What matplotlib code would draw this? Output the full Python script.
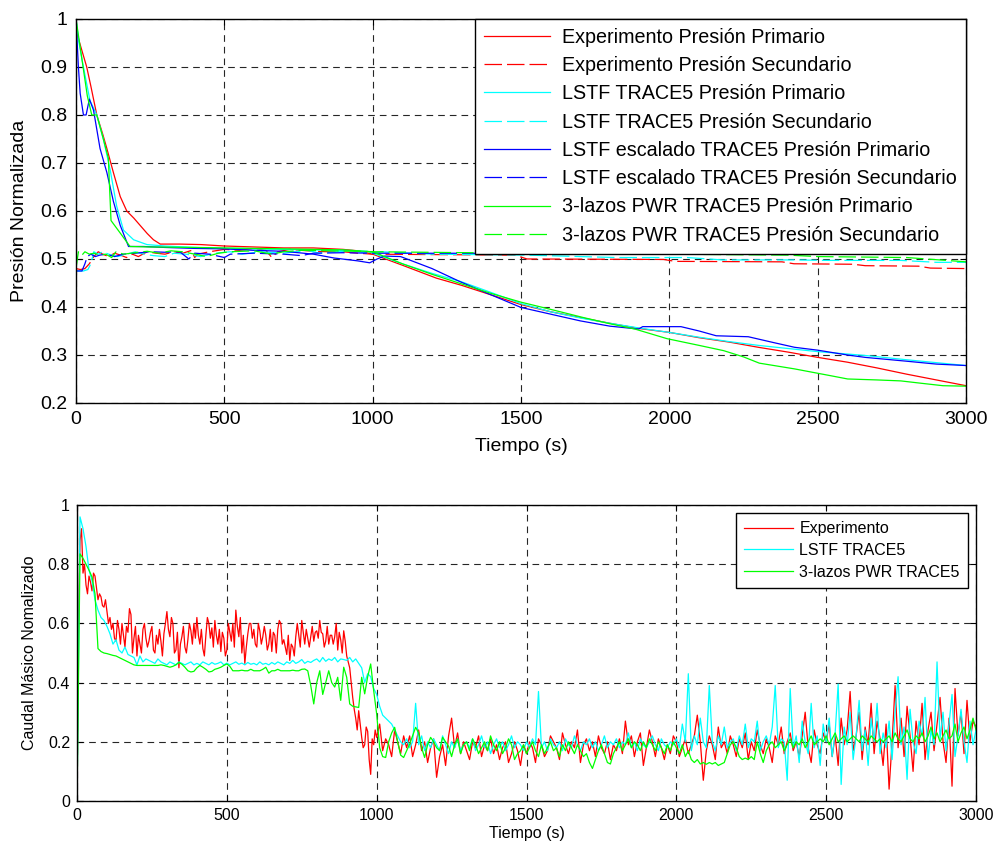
import numpy as np
import matplotlib
matplotlib.use("Agg")
import matplotlib.pyplot as plt

plt.rcParams['font.family'] = ['Liberation Sans', 'DejaVu Sans']

# ---- Presion normalizada (arriba) ----
t_exp_p = [0, 10, 36, 50, 70, 90, 104, 126, 149, 171, 195, 216, 240, 261, 284, 350, 420, 500, 600, 700,
           800, 900, 950, 1000, 1100, 1215, 1300, 1400, 1500, 1600, 1700, 1800, 1900, 2000, 2100, 2200,
           2300, 2400, 2500, 2600, 2700, 2800, 2900, 3000]
p_exp_p = [0.98, 0.955, 0.90, 0.86, 0.80, 0.76, 0.73, 0.68, 0.63, 0.60, 0.585, 0.57, 0.553, 0.54, 0.531,
           0.531, 0.53, 0.527, 0.525, 0.523, 0.523, 0.52, 0.517, 0.51, 0.487, 0.46, 0.445, 0.425, 0.405,
           0.39, 0.378, 0.366, 0.355, 0.347, 0.336, 0.327, 0.316, 0.306, 0.295, 0.285, 0.273, 0.26, 0.248, 0.236]

t_exp_s = [0, 15, 30, 45, 60, 75, 90, 110, 130, 150, 170, 190, 210, 240, 270, 300, 330, 360, 390, 400,
           410, 450, 500, 550, 600, 640, 660, 680, 720, 760, 800, 850, 900, 950, 1000, 1480, 1520, 1980,
           2020, 2380, 2420, 2620, 2660, 2840, 2880, 3000]
p_exp_s = [0.48, 0.478, 0.48, 0.49, 0.505, 0.515, 0.51, 0.505, 0.512, 0.508, 0.503, 0.51, 0.505, 0.515,
           0.512, 0.51, 0.515, 0.512, 0.518, 0.503, 0.51, 0.515, 0.52, 0.518, 0.522, 0.518, 0.503, 0.515,
           0.52, 0.518, 0.516, 0.515, 0.515, 0.512, 0.51, 0.508, 0.5, 0.499, 0.495, 0.494, 0.49, 0.489,
           0.486, 0.485, 0.481, 0.48]

t_lstf_p = [0, 10, 25, 47, 70, 92, 115, 137, 160, 194, 239, 300, 400, 500, 600, 700, 800, 900, 982,
            1100, 1200, 1297, 1400, 1500, 1600, 1700, 1800, 1900, 2000, 2100, 2200, 2300, 2422, 2500,
            2660, 2800, 2900, 3000]
p_lstf_p = [1.0, 0.95, 0.90, 0.83, 0.80, 0.75, 0.686, 0.61, 0.56, 0.54, 0.53, 0.527, 0.524, 0.522,
            0.521, 0.52, 0.519, 0.518, 0.516, 0.49, 0.47, 0.453, 0.43, 0.407, 0.39, 0.377, 0.366, 0.356,
            0.347, 0.337, 0.328, 0.32, 0.312, 0.307, 0.299, 0.29, 0.284, 0.278]

t_lstf_s = [0, 25, 40, 50, 60, 75, 90, 110, 140, 170, 200, 230, 260, 300, 330, 370, 420, 470, 520, 560,
            620, 700, 780, 820, 880, 930, 980, 1030, 1200, 1520, 1820, 2060, 2180, 2420, 2540, 2780,
            2900, 3000]
p_lstf_s = [0.475, 0.475, 0.478, 0.49, 0.515, 0.51, 0.515, 0.51, 0.505, 0.51, 0.515, 0.51, 0.507,
            0.505, 0.512, 0.51, 0.505, 0.512, 0.515, 0.51, 0.515, 0.512, 0.518, 0.512, 0.515, 0.518,
            0.512, 0.515, 0.51, 0.508, 0.503, 0.503, 0.498, 0.498, 0.497, 0.497, 0.493, 0.493]

t_esc_p = [0, 8, 14, 25, 34, 45, 59, 70, 81, 104, 126, 149, 177, 227, 300, 400, 500, 600, 700, 800,
           870, 950, 990, 1015, 1040, 1094, 1200, 1297, 1400, 1500, 1600, 1700, 1800, 1896, 1910, 2039,
           2100, 2158, 2266, 2350, 2422, 2500, 2600, 2660, 2800, 2900, 3000]
p_esc_p = [1.0, 0.90, 0.845, 0.80, 0.80, 0.833, 0.81, 0.77, 0.73, 0.68, 0.62, 0.57, 0.526, 0.526,
           0.524, 0.522, 0.521, 0.518, 0.516, 0.51, 0.502, 0.496, 0.492, 0.50, 0.506, 0.505, 0.48, 0.452,
           0.425, 0.399, 0.385, 0.371, 0.36, 0.354, 0.359, 0.359, 0.35, 0.34, 0.338, 0.326, 0.316, 0.31,
           0.30, 0.295, 0.287, 0.281, 0.278]

t_esc_s = [0, 20, 30, 38, 50, 65, 80, 100, 130, 160, 200, 250, 300, 350, 380, 400, 450, 500, 520, 600,
           700, 760, 800, 900, 1000, 3000]
p_esc_s = [0.475, 0.475, 0.49, 0.505, 0.51, 0.505, 0.508, 0.51, 0.505, 0.51, 0.512, 0.515, 0.514,
           0.515, 0.50, 0.512, 0.51, 0.503, 0.51, 0.512, 0.51, 0.507, 0.512, 0.513, 0.512, 0.511]

t_pwr_p = [0, 19, 38, 53, 70, 92, 109, 113, 118, 149, 182, 250, 400, 500, 600, 700, 800, 900, 1000,
           1100, 1200, 1300, 1400, 1500, 1600, 1710, 1800, 1884, 1992, 2100, 2183, 2250, 2303, 2422,
           2542, 2601, 2700, 2780, 2850, 2922, 3000]
p_pwr_p = [1.0, 0.92, 0.84, 0.80, 0.80, 0.75, 0.71, 0.65, 0.58, 0.554, 0.526, 0.525, 0.524, 0.523,
           0.522, 0.521, 0.52, 0.519, 0.515, 0.49, 0.468, 0.448, 0.428, 0.41, 0.395, 0.378, 0.365,
           0.354, 0.334, 0.32, 0.309, 0.296, 0.283, 0.271, 0.257, 0.25, 0.248, 0.246, 0.241, 0.236, 0.235]

t_pwr_s = [0, 8, 20, 30, 45, 60, 80, 100, 120, 135, 160, 200, 240, 280, 320, 360, 400, 440, 480, 520,
           600, 660, 700, 760, 850, 950, 1000, 1500, 2000, 2400, 2500, 2800, 3000]
p_pwr_s = [0.48, 0.515, 0.508, 0.515, 0.51, 0.512, 0.508, 0.51, 0.503, 0.515, 0.51, 0.513, 0.516,
           0.512, 0.517, 0.515, 0.51, 0.505, 0.512, 0.515, 0.517, 0.51, 0.515, 0.518, 0.517, 0.516,
           0.515, 0.512, 0.51, 0.508, 0.505, 0.503, 0.494]

# ---- Caudal masico normalizado (abajo), muestreo cada 10 s ----
t_q = np.arange(0, 3001, 10)
q_exp = [0.00, 0.88, 0.77, 0.73, 0.76, 0.71, 0.76, 0.68, 0.69, 0.655,
         0.64, 0.62, 0.60, 0.54, 0.58, 0.60, 0.52, 0.57, 0.63, 0.55,
         0.49, 0.53, 0.58, 0.55, 0.54, 0.59, 0.50, 0.53, 0.54, 0.565,
         0.64, 0.555, 0.60, 0.51, 0.45, 0.555, 0.52, 0.545, 0.576, 0.60,
         0.62, 0.53, 0.515, 0.56, 0.60, 0.585, 0.61, 0.53, 0.505, 0.55,
         0.51, 0.57, 0.60, 0.645, 0.555, 0.50, 0.465, 0.565, 0.60, 0.58,
         0.52, 0.575, 0.555, 0.56, 0.53, 0.505, 0.56, 0.58, 0.60, 0.545,
         0.495, 0.475, 0.52, 0.555, 0.56, 0.61, 0.53, 0.55, 0.555, 0.54,
         0.575, 0.61, 0.565, 0.54, 0.53, 0.56, 0.555, 0.51, 0.545, 0.575,
         0.49, 0.45, 0.35, 0.28, 0.305, 0.215, 0.19, 0.235, 0.09, 0.19,
         0.215, 0.26, 0.17, 0.21, 0.19, 0.15, 0.24, 0.20, 0.16, 0.22,
         0.18, 0.22, 0.15, 0.19, 0.24, 0.17, 0.20, 0.13, 0.18, 0.21,
         0.08, 0.15, 0.19, 0.12, 0.22, 0.28, 0.18, 0.23, 0.16, 0.20,
         0.17, 0.14, 0.20, 0.18, 0.22, 0.15, 0.19, 0.17, 0.21, 0.16,
         0.19, 0.14, 0.18, 0.20, 0.13, 0.16, 0.20, 0.17, 0.12, 0.19,
         0.16, 0.20, 0.18, 0.13, 0.21, 0.19, 0.15, 0.17, 0.22, 0.20,
         0.18, 0.14, 0.23, 0.19, 0.16, 0.20, 0.18, 0.24, 0.13, 0.19,
         0.21, 0.17, 0.20, 0.15, 0.22, 0.18, 0.16, 0.20, 0.14, 0.19,
         0.17, 0.21, 0.16, 0.27, 0.19, 0.22, 0.15, 0.20, 0.23, 0.12,
         0.18, 0.24, 0.20, 0.15, 0.21, 0.18, 0.14, 0.19, 0.16, 0.22,
         0.20, 0.15, 0.18, 0.21, 0.16, 0.19, 0.22, 0.29, 0.20, 0.07,
         0.17, 0.22, 0.19, 0.14, 0.25, 0.18, 0.20, 0.16, 0.22, 0.19,
         0.15, 0.21, 0.18, 0.23, 0.14, 0.20, 0.17, 0.24, 0.19, 0.16,
         0.21, 0.18, 0.13, 0.22, 0.19, 0.25, 0.16, 0.20, 0.23, 0.17,
         0.20, 0.15, 0.22, 0.30, 0.18, 0.13, 0.24, 0.19, 0.16, 0.23,
         0.20, 0.26, 0.15, 0.22, 0.12, 0.28, 0.19, 0.24, 0.37, 0.17,
         0.22, 0.30, 0.14, 0.25, 0.19, 0.33, 0.16, 0.27, 0.21, 0.12,
         0.26, 0.04, 0.20, 0.39, 0.18, 0.28, 0.15, 0.32, 0.22, 0.10,
         0.27, 0.19, 0.33, 0.14, 0.24, 0.30, 0.17, 0.26, 0.35, 0.20,
         0.13, 0.28, 0.05, 0.38, 0.22, 0.30, 0.16, 0.34, 0.20, 0.27,
         0.25]
# experimento: muestras intermedias (t = 5, 15, ..., 995 s)
t_q_half = np.arange(5, 1000, 10)
q_exp_half = [0.62, 0.92, 0.80, 0.70, 0.74, 0.77, 0.72, 0.70, 0.66, 0.68,
              0.60, 0.58, 0.55, 0.61, 0.53, 0.56, 0.59, 0.65, 0.50, 0.59,
              0.56, 0.50, 0.60, 0.52, 0.57, 0.51, 0.56, 0.58, 0.49, 0.60,
              0.58, 0.62, 0.50, 0.57, 0.53, 0.59, 0.50, 0.60, 0.53, 0.55,
              0.56, 0.58, 0.49, 0.62, 0.55, 0.52, 0.56, 0.58, 0.57, 0.49,
              0.60, 0.54, 0.52, 0.59, 0.62, 0.56, 0.52, 0.60, 0.55, 0.53,
              0.60, 0.53, 0.59, 0.51, 0.58, 0.57, 0.50, 0.61, 0.53, 0.52,
              0.56, 0.53, 0.49, 0.60, 0.52, 0.57, 0.58, 0.52, 0.59, 0.57,
              0.55, 0.57, 0.52, 0.59, 0.56, 0.53, 0.60, 0.57, 0.50, 0.54,
              0.47, 0.40, 0.31, 0.24, 0.26, 0.18, 0.25, 0.14, 0.21, 0.24]
q_lstf = [0.00, 0.96, 0.92, 0.86, 0.78, 0.745, 0.68, 0.645, 0.62, 0.61,
          0.59, 0.565, 0.53, 0.545, 0.51, 0.50, 0.52, 0.495, 0.49, 0.485,
          0.46, 0.49, 0.47, 0.48, 0.475, 0.47, 0.465, 0.48, 0.47, 0.465,
          0.46, 0.47, 0.465, 0.46, 0.47, 0.465, 0.46, 0.465, 0.47, 0.46,
          0.465, 0.46, 0.47, 0.465, 0.46, 0.468, 0.462, 0.465, 0.47, 0.46,
          0.466, 0.46, 0.465, 0.47, 0.462, 0.466, 0.46, 0.468, 0.462, 0.465,
          0.46, 0.47, 0.462, 0.465, 0.46, 0.468, 0.462, 0.47, 0.465, 0.46,
          0.47, 0.465, 0.475, 0.465, 0.47, 0.478, 0.465, 0.472, 0.468, 0.475,
          0.48, 0.47, 0.485, 0.472, 0.48, 0.475, 0.485, 0.47, 0.48, 0.478,
          0.475, 0.485, 0.47, 0.48, 0.465, 0.45, 0.40, 0.43, 0.42, 0.38,
          0.36, 0.32, 0.29, 0.28, 0.27, 0.26, 0.24, 0.22, 0.20, 0.19,
          0.21, 0.18, 0.20, 0.33, 0.19, 0.22, 0.17, 0.20, 0.18, 0.21,
          0.19, 0.17, 0.22, 0.19, 0.16, 0.20, 0.18, 0.21, 0.17, 0.19,
          0.20, 0.18, 0.21, 0.17, 0.19, 0.22, 0.18, 0.20, 0.16, 0.19,
          0.21, 0.18, 0.20, 0.17, 0.19, 0.22, 0.18, 0.20, 0.19, 0.17,
          0.20, 0.18, 0.21, 0.19, 0.37, 0.18, 0.20, 0.17, 0.21, 0.19,
          0.18, 0.20, 0.17, 0.21, 0.19, 0.18, 0.22, 0.19, 0.17, 0.20,
          0.19, 0.21, 0.18, 0.20, 0.17, 0.19, 0.22, 0.18, 0.20, 0.19,
          0.21, 0.18, 0.20, 0.19, 0.23, 0.18, 0.20, 0.17, 0.21, 0.19,
          0.18, 0.20, 0.22, 0.19, 0.17, 0.21, 0.19, 0.18, 0.20, 0.19,
          0.21, 0.18, 0.26, 0.20, 0.43, 0.17, 0.22, 0.19, 0.28, 0.20,
          0.18, 0.39, 0.20, 0.17, 0.22, 0.19, 0.25, 0.18, 0.20, 0.21,
          0.17, 0.22, 0.19, 0.26, 0.18, 0.21, 0.20, 0.27, 0.17, 0.20,
          0.22, 0.19, 0.25, 0.39, 0.18, 0.21, 0.20, 0.07, 0.38, 0.18,
          0.22, 0.13, 0.27, 0.20, 0.16, 0.33, 0.18, 0.22, 0.12, 0.26,
          0.20, 0.28, 0.15, 0.23, 0.395, 0.056, 0.25, 0.19, 0.30, 0.14,
          0.22, 0.34, 0.17, 0.24, 0.12, 0.28, 0.20, 0.33, 0.16, 0.23,
          0.18, 0.27, 0.14, 0.30, 0.42, 0.19, 0.25, 0.073, 0.31, 0.20,
          0.16, 0.27, 0.22, 0.35, 0.14, 0.24, 0.19, 0.47, 0.21, 0.30,
          0.17, 0.26, 0.36, 0.15, 0.22, 0.31, 0.20, 0.13, 0.27, 0.19,
          0.24]
q_pwr = [0.00, 0.835, 0.82, 0.80, 0.78, 0.757, 0.70, 0.515, 0.505, 0.50,
         0.498, 0.495, 0.492, 0.49, 0.485, 0.48, 0.475, 0.47, 0.465, 0.46,
         0.458, 0.458, 0.458, 0.458, 0.458, 0.458, 0.458, 0.458, 0.46, 0.458,
         0.455, 0.452, 0.455, 0.46, 0.468, 0.462, 0.452, 0.44, 0.436, 0.438,
         0.45, 0.458, 0.452, 0.445, 0.436, 0.438, 0.445, 0.448, 0.452, 0.458,
         0.463, 0.455, 0.44, 0.44, 0.44, 0.442, 0.44, 0.44, 0.445, 0.44,
         0.44, 0.44, 0.445, 0.452, 0.432, 0.44, 0.44, 0.445, 0.44, 0.44,
         0.44, 0.44, 0.442, 0.44, 0.44, 0.445, 0.446, 0.44, 0.39, 0.328,
         0.40, 0.44, 0.36, 0.40, 0.44, 0.40, 0.385, 0.418, 0.34, 0.452,
         0.418, 0.328, 0.32, 0.318, 0.316, 0.418, 0.362, 0.42, 0.463, 0.373,
         0.294, 0.18, 0.15, 0.147, 0.20, 0.23, 0.249, 0.20, 0.155, 0.147,
         0.17, 0.192, 0.22, 0.249, 0.23, 0.18, 0.147, 0.19, 0.215, 0.20,
         0.18, 0.17, 0.215, 0.20, 0.185, 0.15, 0.19, 0.21, 0.16, 0.19,
         0.20, 0.17, 0.21, 0.19, 0.16, 0.18, 0.20, 0.17, 0.22, 0.19,
         0.17, 0.20, 0.16, 0.18, 0.21, 0.19, 0.14, 0.16, 0.17, 0.19,
         0.16, 0.18, 0.20, 0.17, 0.15, 0.19, 0.16, 0.18, 0.20, 0.17,
         0.18, 0.15, 0.19, 0.17, 0.20, 0.18, 0.16, 0.19, 0.17, 0.15,
         0.16, 0.13, 0.11, 0.14, 0.17, 0.19, 0.16, 0.13, 0.125, 0.16,
         0.18, 0.20, 0.17, 0.19, 0.21, 0.18, 0.20, 0.19, 0.17, 0.20,
         0.18, 0.21, 0.19, 0.17, 0.20, 0.18, 0.16, 0.19, 0.17, 0.20,
         0.18, 0.16, 0.19, 0.15, 0.17, 0.14, 0.13, 0.14, 0.125, 0.13,
         0.124, 0.13, 0.125, 0.13, 0.12, 0.125, 0.13, 0.16, 0.19, 0.20,
         0.18, 0.15, 0.14, 0.145, 0.14, 0.15, 0.14, 0.20, 0.16, 0.13,
         0.17, 0.19, 0.20, 0.18, 0.19, 0.20, 0.17, 0.19, 0.21, 0.18,
         0.20, 0.19, 0.21, 0.18, 0.20, 0.22, 0.19, 0.20, 0.21, 0.20,
         0.22, 0.19, 0.21, 0.23, 0.20, 0.21, 0.22, 0.20, 0.21, 0.22,
         0.21, 0.20, 0.22, 0.21, 0.20, 0.22, 0.21, 0.20, 0.21, 0.20,
         0.21, 0.22, 0.20, 0.23, 0.21, 0.20, 0.22, 0.24, 0.21, 0.20,
         0.22, 0.21, 0.23, 0.20, 0.22, 0.25, 0.21, 0.23, 0.20, 0.22,
         0.24, 0.21, 0.22, 0.26, 0.20, 0.23, 0.25, 0.21, 0.24, 0.28,
         0.24]

x_ticks = [0, 500, 1000, 1500, 2000, 2500, 3000]
y1_ticks = [0.2, 0.3, 0.4, 0.5, 0.6, 0.7, 0.8, 0.9, 1.0]
y1_labels = ['0.2', '0.3', '0.4', '0.5', '0.6', '0.7', '0.8', '0.9', '1']
y2_ticks = [0, 0.2, 0.4, 0.6, 0.8, 1.0]
y2_labels = ['0', '0.2', '0.4', '0.6', '0.8', '1']

RED, CYAN, BLUE, GREEN = '#ff0000', '#00ffff', '#0000ff', '#00ff00'
DASH = (0, (14, 4))

# juntar las muestras del experimento en orden temporal
t_exp_all = np.concatenate([t_q, t_q_half])
q_exp_all = np.concatenate([q_exp, q_exp_half])
order = np.argsort(t_exp_all)
t_exp_all, q_exp_all = t_exp_all[order], q_exp_all[order]

fig = plt.figure(figsize=(9.95, 8.42), dpi=100)
ax1 = fig.add_axes([0.0764, 0.5214, 0.8945, 0.4561])
ax2 = fig.add_axes([0.0774, 0.0487, 0.9035, 0.3515])


def style_axes(ax, fs, pad):
    ax.grid(True, color='0.15', linestyle=(0, (6, 4.5)), linewidth=0.8)
    ax.tick_params(direction='in', top=True, right=True, labelsize=fs, length=4, pad=pad)
    for s in ax.spines.values():
        s.set_linewidth(1.0)
        s.set_color('black')
    ax.set_axisbelow(True)


lw = 0.9
ax1.plot(t_exp_p, p_exp_p, color=RED, lw=lw, label='Experimento Presión Primario')
ax1.plot(t_exp_s, p_exp_s, color=RED, lw=lw, ls=DASH, label='Experimento Presión Secundario')
ax1.plot(t_lstf_p, p_lstf_p, color=CYAN, lw=lw, label='LSTF TRACE5 Presión Primario')
ax1.plot(t_lstf_s, p_lstf_s, color=CYAN, lw=lw, ls=DASH, label='LSTF TRACE5 Presión Secundario')
ax1.plot(t_esc_p, p_esc_p, color=BLUE, lw=lw, label='LSTF escalado TRACE5 Presión Primario')
ax1.plot(t_esc_s, p_esc_s, color=BLUE, lw=lw, ls=DASH, label='LSTF escalado TRACE5 Presión Secundario')
ax1.plot(t_pwr_p, p_pwr_p, color=GREEN, lw=lw, label='3-lazos PWR TRACE5 Presión Primario')
ax1.plot(t_pwr_s, p_pwr_s, color=GREEN, lw=lw, ls=DASH, label='3-lazos PWR TRACE5 Presión Secundario')

ax1.set_xlim(0, 3000)
ax1.set_ylim(0.2, 1.0)
ax1.set_xticks(x_ticks)
ax1.set_yticks(y1_ticks)
ax1.set_yticklabels(y1_labels)
style_axes(ax1, 14, 6)
ax1.set_xlabel('Tiempo (s)', fontsize=14, labelpad=7)
ax1.set_ylabel('Presión Normalizada', fontsize=14, labelpad=9)
leg1 = ax1.legend(loc='upper right', fontsize=14.2, frameon=True, fancybox=False, framealpha=1,
                  edgecolor='black', borderaxespad=0, handlelength=3.35, handletextpad=0.62,
                  labelspacing=0.47, borderpad=0.45)
leg1.get_frame().set_linewidth(1.0)

ax2.plot(t_exp_all, q_exp_all, color=RED, lw=lw, label='Experimento')
ax2.plot(t_q, q_lstf, color=CYAN, lw=lw, label='LSTF TRACE5')
ax2.plot(t_q, q_pwr, color=GREEN, lw=lw, label='3-lazos PWR TRACE5')
ax2.set_xlim(0, 3000)
ax2.set_ylim(0, 1.0)
ax2.set_xticks(x_ticks)
ax2.set_yticks(y2_ticks)
ax2.set_yticklabels(y2_labels)
style_axes(ax2, 11.5, 5)
ax2.set_xlabel('Tiempo (s)', fontsize=11.5, labelpad=2)
ax2.set_ylabel('Caudal Másico Nomalizado', fontsize=11.5, labelpad=8)
leg2 = ax2.legend(loc='upper right', fontsize=11.5, frameon=True, fancybox=False, framealpha=1,
                  edgecolor='black', borderaxespad=0.5, handlelength=3.07, handletextpad=0.37,
                  labelspacing=0.42, borderpad=0.52)
leg2.get_frame().set_linewidth(1.0)

fig.savefig('out.png', dpi=100)
